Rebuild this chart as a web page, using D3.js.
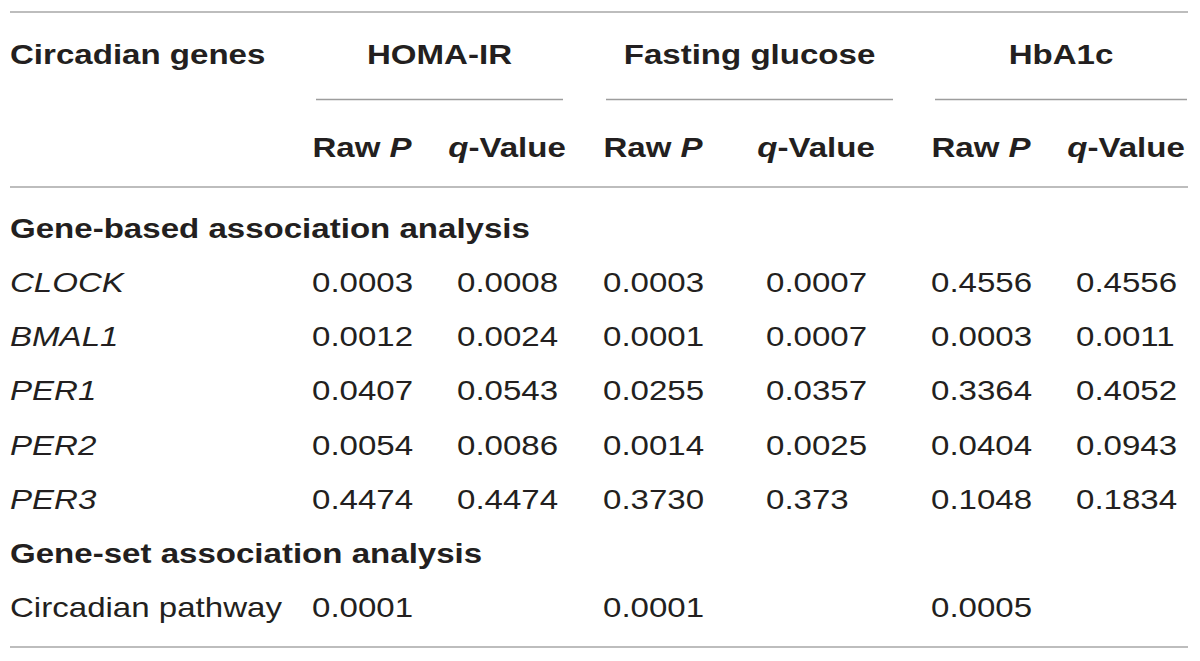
<!DOCTYPE html>
<html>
<head>
<meta charset="utf-8">
<script src="https://cdn.jsdelivr.net/npm/d3@7"></script>
<style>
  html, body { margin: 0; padding: 0; background: #fff; }
  svg text { font-family: "Liberation Sans", Arial, sans-serif; fill: #231f20; }
</style>
</head>
<body>
<script>
// table content
const traits = ["HOMA-IR", "Fasting glucose", "HbA1c"];
const genes = ["CLOCK", "BMAL1", "PER1", "PER2", "PER3"];
const homaRaw = ["0.0003", "0.0012", "0.0407", "0.0054", "0.4474"];
const homaQ = ["0.0008", "0.0024", "0.0543", "0.0086", "0.4474"];
const fgRaw = ["0.0003", "0.0001", "0.0255", "0.0014", "0.3730"];
const fgQ = ["0.0007", "0.0007", "0.0357", "0.0025", "0.373"];
const hbRaw = ["0.4556", "0.0003", "0.3364", "0.0404", "0.1048"];
const hbQ = ["0.4556", "0.0011", "0.4052", "0.0943", "0.1834"];
const pathwayRaw = ["0.0001", "0.0001", "0.0005"];
const sections = ["Gene-based association analysis", "Gene-set association analysis"];
const pathwayLabel = "Circadian pathway";

const W = 1200, H = 661;
const sx = 1.16;        // glyphs in the source are a bit wider than Arial
const fs = 28.5;

const svg = d3.select("body").append("svg")
    .attr("width", W)
    .attr("height", H);

// row baselines
const rowKeys = ["sec0", ...genes, "sec1", "pathway"];
const y = d3.scalePoint().domain(rowKeys).range([238, 617]);

// column centres
const colKeys = ["homaRaw", "homaQ", "fgRaw", "fgQ", "hbRaw", "hbQ"];
const x = d3.scaleOrdinal().domain(colKeys).range([362, 507, 653, 816, 981, 1126]);
const groupX = d3.scaleOrdinal().domain(traits).range([[316, 563], [606, 893], [935, 1187]]);
const valueHalf = 50;

function txt(g, str, px, py, anchor, bold, italic) {
  return g.append("text")
    .attr("transform", `translate(${px},${py}) scale(${sx},1)`)
    .attr("text-anchor", anchor)
    .attr("font-size", fs)
    .attr("font-weight", bold ? "bold" : "normal")
    .attr("font-style", italic ? "italic" : "normal")
    .text(str);
}

// rules
svg.append("line").attr("x1", 10).attr("x2", 1188).attr("y1", 12).attr("y2", 12)
    .attr("stroke", "#bdbdbd").attr("stroke-width", 2);
svg.append("line").attr("x1", 10).attr("x2", 1188).attr("y1", 187).attr("y2", 187)
    .attr("stroke", "#bdbdbd").attr("stroke-width", 2);
svg.append("line").attr("x1", 10).attr("x2", 1188).attr("y1", 647).attr("y2", 647)
    .attr("stroke", "#bdbdbd").attr("stroke-width", 2);

svg.selectAll("line.grp")
  .data(traits)
  .join("line")
    .attr("class", "grp")
    .attr("x1", d => groupX(d)[0])
    .attr("x2", d => groupX(d)[1])
    .attr("y1", 99.5).attr("y2", 99.5)
    .attr("stroke", "#9d9d9d").attr("stroke-width", 1.6);

// header
const head = svg.append("g");
txt(head, "Circadian genes", 10, 64, "start", true, false);
traits.forEach(t => {
  const r = groupX(t);
  txt(head, t, (r[0] + r[1]) / 2, 64, "middle", true, false);
});
colKeys.forEach((k, i) => {
  const t = head.append("text")
    .attr("transform", `translate(${x(k)},157) scale(${sx},1)`)
    .attr("text-anchor", "middle")
    .attr("font-size", fs)
    .attr("font-weight", "bold");
  if (i % 2 === 0) {
    t.append("tspan").text("Raw ");
    t.append("tspan").attr("font-style", "italic").text("P");
  } else {
    t.append("tspan").attr("font-style", "italic").text("q");
    t.append("tspan").text("-Value");
  }
});

// body
const body = svg.append("g");
txt(body, sections[0], 10, y("sec0"), "start", true, false);
txt(body, sections[1], 10, y("sec1"), "start", true, false);

const cols = { homaRaw, homaQ, fgRaw, fgQ, hbRaw, hbQ };
genes.forEach((gname, i) => {
  txt(body, gname, 10, y(gname), "start", false, true);
  colKeys.forEach(k => {
    txt(body, cols[k][i], x(k) - valueHalf, y(gname), "start", false, false);
  });
});

txt(body, pathwayLabel, 10, y("pathway"), "start", false, false);
["homaRaw", "fgRaw", "hbRaw"].forEach((k, i) => {
  txt(body, pathwayRaw[i], x(k) - valueHalf, y("pathway"), "start", false, false);
});
</script>
</body>
</html>
